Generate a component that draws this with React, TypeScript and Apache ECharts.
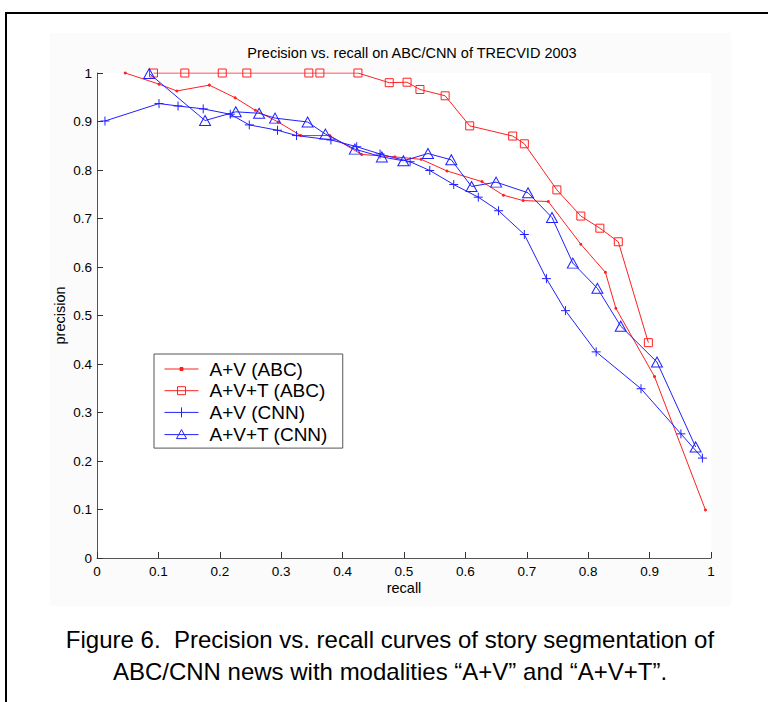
import React, { useEffect, useRef } from "react";
import * as echarts from "echarts";

// ---- data ----
const titleText = "Precision vs. recall on ABC/CNN of TRECVID 2003";
const xAxisName = "recall";
const yAxisName = "precision";
const captionLines = [
  "Figure 6.  Precision vs. recall curves of story segmentation of",
  "ABC/CNN news with modalities \u201cA+V\u201d and \u201cA+V+T\u201d.",
];
const seriesNames = ["A+V (ABC)", "A+V+T (ABC)", "A+V (CNN)", "A+V+T (CNN)"];

const avAbcRecall = [0.046, 0.101, 0.130, 0.183, 0.225, 0.258, 0.295, 0.332, 0.379, 0.431, 0.485, 0.528, 0.570, 0.627, 0.662, 0.694, 0.735, 0.788, 0.828, 0.845, 0.908, 0.991];
const avAbcPrecision = [1.0, 0.977, 0.963, 0.975, 0.949, 0.923, 0.899, 0.871, 0.871, 0.832, 0.827, 0.822, 0.798, 0.776, 0.748, 0.737, 0.735, 0.647, 0.589, 0.515, 0.374, 0.099];

const avtAbcRecall = [0.092, 0.143, 0.204, 0.244, 0.345, 0.363, 0.425, 0.476, 0.505, 0.526, 0.567, 0.607, 0.677, 0.696, 0.749, 0.788, 0.819, 0.849, 0.898];
const avtAbcPrecision = [1.0, 1.0, 1.0, 1.0, 1.0, 1.0, 1.0, 0.980, 0.981, 0.966, 0.953, 0.891, 0.870, 0.854, 0.759, 0.705, 0.680, 0.652, 0.444];

const avCnnRecall = [0.013, 0.101, 0.132, 0.173, 0.217, 0.248, 0.294, 0.325, 0.381, 0.423, 0.461, 0.510, 0.542, 0.581, 0.621, 0.654, 0.696, 0.732, 0.763, 0.813, 0.886, 0.951, 0.986];
const avCnnPrecision = [0.901, 0.937, 0.932, 0.926, 0.915, 0.893, 0.882, 0.871, 0.862, 0.848, 0.833, 0.817, 0.799, 0.770, 0.744, 0.716, 0.667, 0.576, 0.510, 0.425, 0.349, 0.256, 0.206];

const avtCnnRecall = [0.085, 0.176, 0.226, 0.264, 0.290, 0.343, 0.372, 0.420, 0.464, 0.499, 0.539, 0.577, 0.610, 0.650, 0.702, 0.741, 0.775, 0.815, 0.853, 0.912, 0.975];
const avtCnnPrecision = [0.999, 0.902, 0.920, 0.917, 0.907, 0.899, 0.874, 0.843, 0.827, 0.819, 0.834, 0.821, 0.766, 0.775, 0.753, 0.702, 0.608, 0.556, 0.478, 0.404, 0.229];

const zip = (xs: number[], ys: number[]) => xs.map((x, i) => [x, ys[i]]);

const FONT = "'Liberation Sans', Arial, Helvetica, sans-serif";
const RED = "#ff2020";
const BLUE = "#2020ff";
const PLUS = "path://M5,0L5,10M0,5L10,5";

// legend icons: a 34px line sample with a small marker in its middle
const ICON_DOT = "path://M0,5L34,5M15.5,3.5h3v3h-3Z";
const ICON_SQUARE = "path://M0,5L34,5M13,1h8v8h-8Z";
const ICON_PLUS = "path://M0,5L34,5M17,0L17,10";
const ICON_TRIANGLE = "path://M0,5L34,5M17,0L22,9L12,9Z";

export default function App() {
  const ref = useRef<HTMLDivElement>(null);

  useEffect(() => {
    if (!ref.current) return;
    const chart = echarts.init(ref.current, null, { renderer: "svg" });
    const hollow = (c: string) => ({ color: "rgba(255,255,255,0)", borderColor: c, borderWidth: 1 });
    const axisCommon = {
      type: "value" as const,
      min: 0,
      max: 1,
      interval: 0.1,
      splitLine: { show: false },
      axisLine: { show: true, lineStyle: { color: "#555", width: 1 } },
      axisTick: { show: true, inside: true, length: 6, lineStyle: { color: "#333" } },
      axisLabel: {
        color: "#000",
        fontFamily: FONT,
        fontSize: 13.5,
        formatter: (v: number) => String(+v.toFixed(1)),
      },
      nameLocation: "middle" as const,
      nameMoveOverlap: false,
      nameTextStyle: { color: "#000", fontFamily: FONT, fontSize: 14.5 },
    };
    chart.setOption({
      animation: false,
      backgroundColor: "#fff",
      title: {
        text: titleText,
        left: 407,
        top: 40,
        textAlign: "center",
        textStyle: { fontFamily: FONT, fontSize: 14.5, fontWeight: "normal", color: "#000" },
      },
      grid: { left: 97, top: 73, width: 614, height: 485, show: false },
      xAxis: { ...axisCommon, name: xAxisName, nameGap: 22, axisLabel: { ...axisCommon.axisLabel, margin: 6 } },
      yAxis: { ...axisCommon, name: yAxisName, nameGap: 30, nameRotate: 90, axisLabel: { ...axisCommon.axisLabel, margin: 5 } },
      legend: {
        orient: "vertical",
        left: 154,
        top: 354,
        data: [
          { name: seriesNames[0], icon: ICON_DOT, itemStyle: { color: RED, borderColor: RED, borderWidth: 1 } },
          { name: seriesNames[1], icon: ICON_SQUARE, itemStyle: hollow(RED) },
          { name: seriesNames[2], icon: ICON_PLUS, itemStyle: hollow(BLUE) },
          { name: seriesNames[3], icon: ICON_TRIANGLE, itemStyle: hollow(BLUE) },
        ],
        backgroundColor: "#fff",
        borderColor: "#555",
        borderWidth: 1,
        padding: [5.5, 15, 4.5, 10],
        itemWidth: 34,
        itemHeight: 14,
        itemGap: 2.7,
        textStyle: { fontFamily: FONT, fontSize: 19, color: "#000", padding: [0, 0, 0, 6] },
      },
      graphic: [
        { type: "rect", z: -10, shape: { x: 50, y: 33, width: 681, height: 573 }, style: { fill: "#fbfbfb" } },
        { type: "rect", z: -9, shape: { x: 97, y: 73, width: 614, height: 485 }, style: { fill: "#fff" } },
        { type: "line", shape: { x1: 6, y1: 12, x2: 6, y2: 702 }, style: { stroke: "#000", lineWidth: 2 } },
        { type: "line", shape: { x1: 5, y1: 13, x2: 768, y2: 13 }, style: { stroke: "#000", lineWidth: 2 } },
        {
          type: "text",
          x: 390,
          y: 639,
          style: { text: captionLines[0], font: `24px ${FONT}`, fill: "#000", textAlign: "center", textVerticalAlign: "middle" },
        },
        {
          type: "text",
          x: 390,
          y: 671,
          style: { text: captionLines[1], font: `24px ${FONT}`, fill: "#000", textAlign: "center", textVerticalAlign: "middle" },
        },
      ],
      series: [
        {
          name: seriesNames[0],
          type: "line",
          data: zip(avAbcRecall, avAbcPrecision),
          symbol: "circle",
          symbolSize: 3,
          lineStyle: { color: RED, width: 1 },
          itemStyle: { color: RED },
        },
        {
          name: seriesNames[1],
          type: "line",
          data: zip(avtAbcRecall, avtAbcPrecision),
          symbol: "rect",
          symbolSize: 8,
          lineStyle: { color: RED, width: 1 },
          itemStyle: hollow(RED),
        },
        {
          name: seriesNames[2],
          type: "line",
          data: zip(avCnnRecall, avCnnPrecision),
          symbol: PLUS,
          symbolSize: 9,
          lineStyle: { color: BLUE, width: 1 },
          itemStyle: hollow(BLUE),
        },
        {
          name: seriesNames[3],
          type: "line",
          data: zip(avtCnnRecall, avtCnnPrecision),
          symbol: "triangle",
          symbolSize: [11, 10],
          lineStyle: { color: BLUE, width: 1 },
          itemStyle: hollow(BLUE),
        },
      ],
    });
    return () => chart.dispose();
  }, []);

  return (
    <div
      ref={ref}
      style={{ position: "absolute", left: 0, top: 0, width: 768, height: 702, background: "#fff" }}
    />
  );
}
